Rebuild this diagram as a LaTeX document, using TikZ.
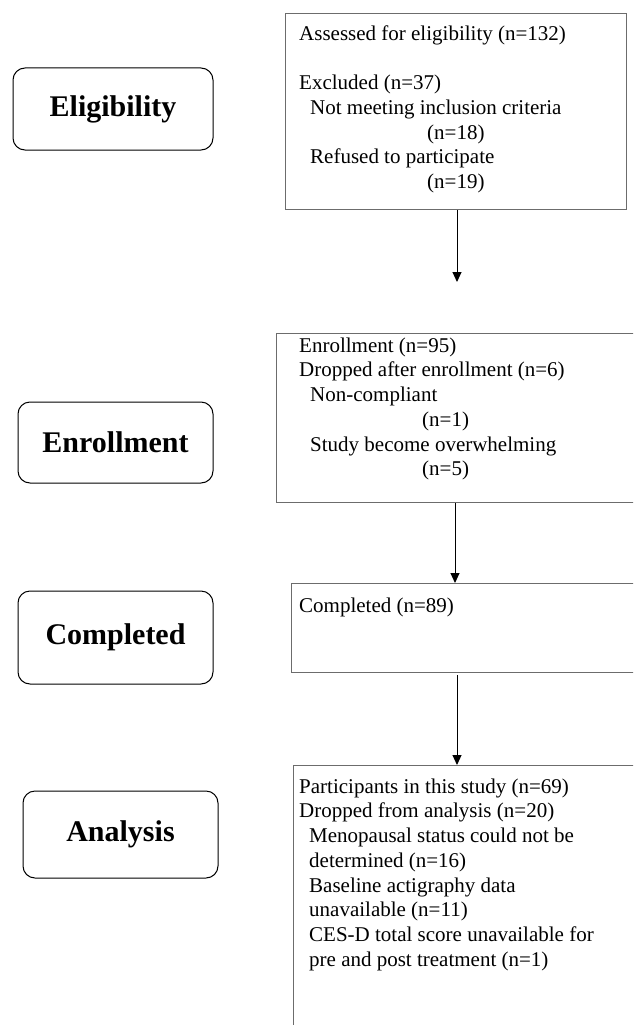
\documentclass[tikz,border=0pt]{standalone}
\usepackage{fontspec}
\setmainfont{Liberation Serif}
\usetikzlibrary{arrows.meta}

\tikzset{
  stage/.style={draw, rounded corners=12pt, line width=1pt, inner sep=0pt,
    font=\fontsize{30}{30}\selectfont\bfseries},
  infobox/.style={draw=gray!85!black, line width=1.1pt, anchor=north west, inner sep=0pt},
  info/.style={anchor=north west, inner sep=0pt, align=left,
    font=\fontsize{21}{24.7}\selectfont},
  arr/.style={-{Triangle[width=9pt,length=10pt]}, line width=1pt}
}
\newcommand{\ind}{\hspace*{11pt}}
\newcommand{\topline}{\rule{0pt}{17pt}}

\begin{document}
\begin{tikzpicture}[x=1pt,y=-1pt]
	\useasboundingbox (0,0) rectangle (633,1025);
	\clip (0,0) rectangle (633,1025);

	% stages
	\node[stage, minimum width=200pt, minimum height=82pt] (elig) at (113,109) {Eligibility};
	\node[stage, minimum width=195pt, minimum height=81pt] (enrol) at (115.5,442.5) {Enrollment};
	\node[stage, minimum width=195pt, minimum height=93pt] (compl) at (115.5,637.5) {Completed};
	\node[stage, minimum width=195pt, minimum height=87pt] (anal) at (120.5,834.5) {Analysis};

	% boxes
	\node[infobox, minimum width=341pt, minimum height=196pt] (assessbox) at (285,13) {};
	\node[infobox, minimum width=430pt, minimum height=169pt] (enrolbox) at (276,333) {};
	\node[infobox, minimum width=420pt, minimum height=89pt] (complbox) at (291,583) {};
	\node[infobox, minimum width=420pt, minimum height=340pt] (analbox) at (293,765) {};

	\node[info] (assesstxt) at (299,23) {\topline Assessed for eligibility (n=132)\\[24.7pt]
		Excluded (n=37)\\
		\ind Not meeting inclusion criteria\\
		\hspace*{128pt}(n=18)\\
		\ind Refused to participate\\
		\hspace*{128pt}(n=19)};
	\node[info] (enroltxt) at (299,335) {\topline Enrollment (n=95)\\
		Dropped after enrollment (n=6)\\
		\ind Non-compliant\\
		\hspace*{123pt}(n=1)\\
		\ind Study become overwhelming\\
		\hspace*{123pt}(n=5)};
	\node[info] (compltxt) at (299,595) {\topline Completed (n=89)};
	\node[info] (analtxt) at (299,776) {\topline Participants in this study (n=69)\\
		Dropped from analysis (n=20)\\
		\hspace*{10pt}Menopausal status could not be\\
		\hspace*{10pt}determined (n=16)\\
		\hspace*{10pt}Baseline actigraphy data\\
		\hspace*{10pt}unavailable (n=11)\\
		\hspace*{10pt}CES-D total score unavailable for\\
		\hspace*{10pt}pre and post treatment (n=1)};

	% arrows
	\coordinate (gap) at (457,282);
	\coordinate (c2) at (455,0);
	\coordinate (c3) at (457,675);
	\draw[arr] (gap |- assessbox.south) -- (gap);
	\draw[arr] (c2 |- enrolbox.south) -- (c2 |- complbox.north);
	\draw[arr] (c3) -- (c3 |- analbox.north);
\end{tikzpicture}
\end{document}
